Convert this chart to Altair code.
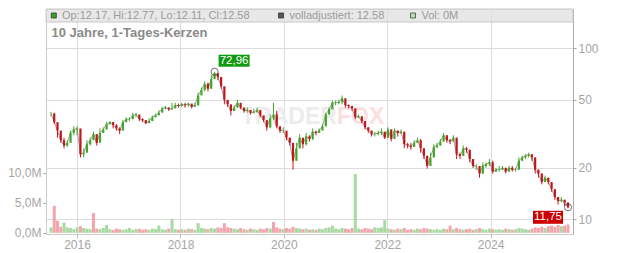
import altair as alt
import pandas as pd

# ---------------- data ----------------
closes = [
    41.5, 37, 33, 29, 27, 28, 32, 33.5, 34, 24,
    24.5, 27.5, 29, 31.5, 28, 32, 33.5, 36, 37, 35.5,
    34, 33, 37, 38.5, 38.5, 40.5, 41, 38.5, 38, 36.5,
    37.5, 39.5, 40.5, 42, 44.5, 45, 44, 44.5, 46.5, 46,
    47, 46.5, 47.5, 45.5, 46.5, 53, 57, 62, 58, 66,
    71.5, 68, 60, 50, 47, 43, 45, 48, 45, 43,
    43.5, 42, 42.5, 43.5, 40.5, 38, 34.5, 39, 41, 35,
    33, 33, 30, 28, 22, 26, 30, 27.5, 30.5, 29.5,
    32.5, 32, 33, 35, 41, 44, 48, 48, 48.5, 51,
    46.5, 46, 44.5, 39.5, 40, 37.5, 34.5, 33, 31.5, 31.5,
    32, 32.5, 30, 33.5, 29.5, 33, 32, 32.5, 27.5, 27,
    26.5, 28, 29, 26, 23.5, 20.5, 23, 26.5, 27, 28.5,
    31, 29, 28.5, 30, 24, 23.5, 26, 25.5, 22.5, 20.5,
    20.5, 18.5, 20.5, 21, 21.5, 19, 19.5, 19.5, 20, 19,
    20, 19.5, 19.5, 22, 23, 23.5, 24, 23, 19.5, 18.5,
    16.5, 17.5, 16.5, 15, 13.5, 12.8, 13, 12.5, 11.75,
]
highs = [
    42.5, 42, 35, 32, 30, 29, 33, 35, 35, 30,
    26, 29, 30, 32.5, 30, 34, 34.5, 37, 37.5, 37,
    36, 34.5, 38, 39.5, 39.5, 42, 42, 40, 39, 38,
    39, 40.5, 41.5, 43.5, 45.5, 46, 45, 48, 48, 47.5,
    48, 48, 48, 47, 48, 55, 59, 64, 63, 70,
    72.96, 71, 63, 58, 49, 46, 46.5, 50, 47, 44.5,
    45, 43.5, 44, 45, 43.5, 40, 36, 41, 48, 43,
    34, 34.5, 31.5, 30, 26.5, 28, 31.5, 29, 32, 31,
    34, 33, 34, 36, 42, 45, 49.5, 49.5, 50, 53,
    50, 47, 46, 44.5, 41, 40, 37.5, 34.5, 33, 32.5,
    33, 34, 32.5, 34.5, 33.5, 34, 33, 33.5, 32.5, 28,
    28, 29, 30, 29.5, 26, 23.5, 24.5, 27.5, 28, 29.5,
    32, 31, 29.5, 31, 30, 24.5, 27, 26.5, 25.5, 22.5,
    21, 20.5, 21.5, 21.5, 22.5, 22, 20, 20.5, 20.5, 20,
    20.5, 20.5, 20, 23, 23.5, 24, 24.5, 24, 23, 19.5,
    18.5, 18, 17.5, 16.5, 15, 13.5, 13.5, 13, 12.6,
]
lows = [
    40, 36, 30, 28, 26, 26.5, 30, 31, 31, 23,
    23, 26, 27, 30, 27, 30, 32, 34, 36, 34,
    33, 31.5, 35, 37, 37.5, 39, 39.5, 37.5, 37, 36,
    36.5, 38.5, 39.5, 41, 43, 44, 43, 43.5, 45, 45,
    45.5, 45, 45.5, 44.5, 45.5, 46, 54, 56, 56, 58,
    68, 65, 58, 47, 45.5, 40.5, 43, 45, 44, 42,
    42, 41, 41.5, 42, 39.5, 37, 33, 34, 38, 34,
    32, 32, 29, 27, 19.5, 22, 26, 26, 27, 28.5,
    29, 31, 32, 34, 35, 41, 44, 46.5, 47, 47,
    45, 44.5, 43, 38.5, 39, 36.5, 33.5, 32, 30.5, 30.5,
    31, 31, 29.5, 30, 28.5, 29.5, 30.5, 31.5, 26, 26,
    25.5, 26.5, 28, 24.5, 22.5, 19.8, 20.5, 23, 26, 27,
    28.5, 28, 27.5, 28.5, 22.5, 22.5, 23.5, 24.5, 21.5, 20,
    19.5, 17.5, 18.5, 20, 20.5, 18.5, 19, 19, 19.5, 18.5,
    19, 19, 19, 19.5, 22, 22.5, 23, 22, 18.5, 17.5,
    16, 16.5, 16, 14.5, 13, 12.2, 12.5, 12, 11.6,
]
volumes = [
    0.9, 4.5, 2.0, 1.0, 1.7, 0.9, 0.8, 0.6, 0.9, 1.1,
    0.8, 0.7, 0.6, 3.3, 0.7, 0.6, 0.8, 1.3, 0.6, 0.5,
    0.7, 0.6, 0.5, 0.6, 0.8, 0.5, 0.6, 0.7, 0.5, 0.6,
    0.5, 0.7, 0.6, 1.2, 0.6, 0.5, 0.7, 2.3, 0.6, 0.5,
    0.6, 0.5, 0.7, 0.6, 0.5, 1.6, 0.8, 0.7, 0.6, 0.8,
    0.7, 0.9, 0.8, 1.6, 0.9, 0.8, 0.7, 0.6, 0.8, 0.6,
    0.5, 0.7, 0.6, 0.5, 0.7, 0.6, 0.8, 0.7, 1.8, 0.9,
    0.7, 0.6, 0.8, 0.7, 1.0, 0.8, 0.7, 0.6, 0.7, 0.5,
    0.6, 0.5, 0.7, 0.6, 0.8, 0.9, 1.2, 0.7, 0.6, 0.8,
    0.7, 0.6, 0.8, 9.8, 0.7, 0.6, 0.8, 0.7, 0.6, 0.9,
    0.8, 0.9, 2.1, 0.7, 0.6, 0.5, 0.7, 0.6, 0.8, 0.5,
    0.6, 0.5, 0.7, 0.6, 0.8, 0.7, 0.6, 0.5, 0.6, 0.5,
    0.7, 0.6, 1.2, 0.6, 0.8, 0.6, 0.5, 0.6, 0.7, 0.5,
    0.6, 0.8, 0.6, 0.5, 0.7, 0.6, 0.5, 0.6, 0.5, 0.7,
    0.6, 0.5, 0.6, 0.8, 0.7, 0.6, 0.5, 0.7, 0.9, 0.8,
    1.0, 0.8, 1.1, 1.2, 1.0, 1.3, 1.1, 1.2, 1.4,
]
volume_dir_fix = {4: "up", 13: "down", 68: "down", 93: "up", 102: "up"}
start_date = "2015-07-01"
end_date = "2025-07-01"
peak_label = "72,96"
last_price = 11.75
last_label = "11,75"
header_ohlc = [("Op", "12.17"), ("Hi", "12.77"), ("Lo", "12.11"), ("Cl", "12.58")]
adjusted_text = "volladjustiert: 12.58"
vol_text = "Vol: 0M"
title_text = "10 Jahre, 1-Tages-Kerzen"
year_ticks = [2016, 2018, 2020, 2022, 2024]
price_ticks = [10, 20, 50, 100]
volume_ticks = [0, 5, 10]

# ---------------- frames ----------------
n = len(closes)
dates = list(pd.date_range(start_date, end_date, periods=n).strftime("%Y-%m-%d"))
opens = [closes[0]] + closes[:-1]
direction = ["up" if c >= o else "down" for o, c in zip(opens, closes)]
vol_dir = [volume_dir_fix.get(i, d) for i, d in enumerate(direction)]
df = pd.DataFrame(dict(date=dates, open=opens, close=closes, high=highs, low=lows,
                       vol=volumes, dir=direction, vdir=vol_dir))
ipk = highs.index(max(highs))
peak_df = pd.DataFrame(dict(date=[dates[ipk]], price=[highs[ipk]], label=[peak_label]))
last_df = pd.DataFrame(dict(date=[dates[-1]], price=[last_price], label=[last_label]))
dummy = pd.DataFrame({"a": [0]})

# ---------------- styling ----------------
W, H = 527, 225
FONT = "Liberation Sans"
GREEN, RED = "#43a62a", "#c3161c"
VGREEN, VRED = "#a8d9a0", "#f3a5ad"
GRID = "#dcdcdc"
LBL = "#a6a6a6"

xscale = alt.Scale(domain=[alt.DateTime(year=2015, month=7, date=1),
                           alt.DateTime(year=2025, month=7, date=1)])
xaxis = alt.Axis(values=[alt.DateTime(year=y, month=1, date=1) for y in year_ticks],
                 format="%Y", grid=True, gridColor=GRID, labelColor=LBL, labelFontSize=12,
                 labelFont=FONT, tickColor="#bbbbbb", tickSize=4, domainColor="#cccccc",
                 labelPadding=1, title=None)
X = alt.X("date:T", scale=xscale, axis=xaxis, title=None)
pscale = alt.Scale(type="log", domain=[8.2, 169.8], nice=False)
paxis = alt.Axis(orient="right", values=price_ticks, format="d", grid=True,
                 gridColor=GRID, labelColor=LBL, labelFontSize=12, labelFont=FONT,
                 tickColor="#aaaaaa", tickSize=3, labelPadding=2,
                 domainColor="#aaaaaa", title=None)
vscale = alt.Scale(domain=[-0.2, 37.3], nice=False, zero=False)

cond = alt.condition("datum.dir == 'up'", alt.value(GREEN), alt.value(RED))
vcond = alt.condition("datum.vdir == 'up'", alt.value(VGREEN), alt.value(VRED))

base = alt.Chart(df)

# volume
vol_layer = base.mark_bar(width=3, clip=True).encode(
    x=X,
    y=alt.Y("vol:Q", scale=vscale, title=None,
            axis=alt.Axis(orient="left", values=volume_ticks, grid=False,
                          labelExpr="replace(format(datum.value, '.1f'), '.', ',') + 'M'",
                          labelColor=LBL, labelFontSize=12, labelFont=FONT,
                          tickColor="#aaaaaa", tickSize=3, labelPadding=2,
                          domainColor="#cccccc", title=None)),
    y2=alt.datum(0),
    color=vcond,
)

# price
def PY(field):
    return alt.Y(field, scale=pscale, axis=paxis, title=None)

line = base.mark_line(color="#a0a0a0", strokeWidth=1, clip=True).encode(x=X, y=PY("close:Q"))
wick = base.mark_rule(strokeWidth=1, clip=True).encode(x=X, y=PY("low:Q"), y2="high:Q", color=cond)
body = base.mark_bar(width=2.2, clip=True).encode(x=X, y=PY("open:Q"), y2="close:Q", color=cond)

peak_c = alt.Chart(peak_df).mark_point(shape="circle", size=50, filled=False,
                                       color="#333333", strokeWidth=1).encode(x=X, y=PY("price:Q"))
peak_box = alt.Chart(peak_df).mark_rect(color="#119a11", xOffset=4, x2Offset=35,
                                        yOffset=-17, y2Offset=-5).encode(
    x=X, x2="date:T", y=PY("price:Q"), y2="price:Q")
peak_txt = alt.Chart(peak_df).mark_text(color="white", fontSize=11.5, font=FONT,
                                        dx=19.5, dy=-11, align="center",
                                        baseline="middle").encode(x=X, y=PY("price:Q"), text="label:N")
last_box = alt.Chart(last_df).mark_rect(color="#cc0000", xOffset=-35, x2Offset=-5,
                                        yOffset=3.5, y2Offset=16.5).encode(
    x=X, x2="date:T", y=PY("price:Q"), y2="price:Q")
last_c = alt.Chart(last_df).mark_point(shape="circle", size=50, filled=False,
                                       color="#333333", strokeWidth=1).encode(x=X, y=PY("price:Q"))
last_txt = alt.Chart(last_df).mark_text(color="white", fontSize=11.5, font=FONT,
                                        dx=-20, dy=10, align="center",
                                        baseline="middle").encode(x=X, y=PY("price:Q"), text="label:N")

price = alt.layer(line, wick, body, peak_c, peak_box, peak_txt, last_box, last_c, last_txt)

# decorations: header band, legend items, title, watermark
d = alt.Chart(dummy)
band = d.mark_rect(fill="#dedede", fillOpacity=0.7, stroke="#c8c8c8", strokeWidth=1).encode(
    x=alt.value(0), x2=alt.value(W), y=alt.value(0), y2=alt.value(13))
ohlc_str = ", ".join(f"{k}:{v}" for k, v in header_ohlc)
sq1 = d.mark_square(size=25, fill="#35a52c", stroke="#333333", strokeWidth=0.8, opacity=1).encode(
    x=alt.value(7.8), y=alt.value(6.5))
sq2 = d.mark_square(size=25, fill="#5a5a5a", stroke="#333333", strokeWidth=0.8, opacity=1).encode(
    x=alt.value(235), y=alt.value(6.5))
sq3 = d.mark_square(size=25, fill="#b4e2ac", stroke="#444444", strokeWidth=0.8, opacity=1).encode(
    x=alt.value(367), y=alt.value(6.5))
t1 = d.mark_text(text=ohlc_str, align="left", baseline="middle", fontSize=11, font=FONT,
                 color="#9a9a9a").encode(x=alt.value(16), y=alt.value(6.7))
t2 = d.mark_text(text=adjusted_text, align="left", baseline="middle", fontSize=11, font=FONT,
                 color="#9a9a9a").encode(x=alt.value(243.5), y=alt.value(6.7))
t3 = d.mark_text(text=vol_text, align="left", baseline="middle", fontSize=11, font=FONT,
                 color="#9a9a9a").encode(x=alt.value(375.5), y=alt.value(6.7))
title = d.mark_text(text=title_text, align="left", baseline="alphabetic", fontSize=13,
                    fontWeight="bold", font=FONT, color="#8a8a8a").encode(
    x=alt.value(5.5), y=alt.value(28))
wm1 = d.mark_text(text="TRADER", align="left", baseline="alphabetic", fontSize=23,
                  fontWeight="bold", font=FONT, color="#ececec").encode(
    x=alt.value(195), y=alt.value(115))
wm2 = d.mark_text(text="FOX", align="left", baseline="alphabetic", fontSize=23,
                  fontWeight="bold", font=FONT, color="#fbdede").encode(
    x=alt.value(291), y=alt.value(115))

chart = alt.layer(
    band, wm1, wm2, vol_layer, price, sq1, sq2, sq3, t1, t2, t3, title
).resolve_scale(y="independent").properties(
    width=W, height=H,
    autosize=alt.AutoSizeParams(type="none"),
    padding={"left": 46, "top": 9, "right": 59, "bottom": 19},
).configure_view(stroke="#cfcfcf", strokeWidth=1).configure(background="white")

chart.save("out.html", embed_options={"renderer": "svg", "actions": False})
